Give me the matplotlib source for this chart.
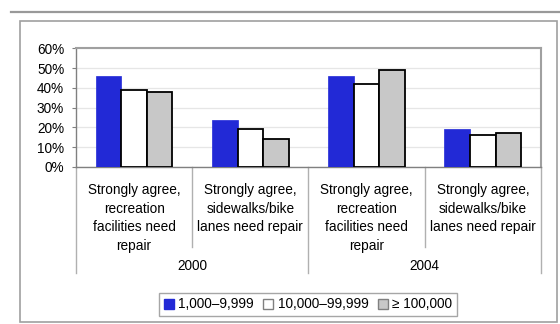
import numpy as np
import matplotlib
matplotlib.use("Agg")
import matplotlib.pyplot as plt
from matplotlib.patches import Rectangle
from matplotlib.lines import Line2D

plt.rcParams['font.family'] = ['Liberation Sans', 'DejaVu Sans']

# data (percent)
categories = ["Strongly agree,\nrecreation\nfacilities need\nrepair",
              "Strongly agree,\nsidewalks/bike\nlanes need repair",
              "Strongly agree,\nrecreation\nfacilities need\nrepair",
              "Strongly agree,\nsidewalks/bike\nlanes need repair"]
years = ["2000", "2004"]
small = [46, 24, 46, 19]      # 1,000-9,999
medium = [39, 19, 42, 16]     # 10,000-99,999
large = [38, 14, 49, 17]      # >= 100,000
series_names = ["1,000\u20139,999", "10,000\u201399,999", "\u2265 100,000"]
yticks = [0, 10, 20, 30, 40, 50, 60]

BLUE = "#2229D6"
GREY = "#C8C8C8"
FS = 9.8

fig = plt.figure(figsize=(5.6, 3.24), dpi=100)
ax = fig.add_axes([0.1357, 0.4846, 0.966 - 0.1357, 0.851 - 0.4846])

x = np.arange(len(categories))
w = 0.22
ax.bar(x - w, small, w, color=BLUE, edgecolor=BLUE, linewidth=0.5, zorder=3)
ax.bar(x, medium, w, color="white", edgecolor="black", linewidth=1.3, zorder=3)
ax.bar(x + w, large, w, color=GREY, edgecolor="black", linewidth=1.3, zorder=3)

ax.set_xlim(-0.5, 3.5)
ax.set_ylim(0, 60)
ax.set_yticks(yticks)
ax.set_yticklabels([f"{t}%" for t in yticks], fontsize=FS)
ax.tick_params(axis='y', length=3, width=0.8, color="#808080", pad=5.5)
ax.set_xticks([])
ax.yaxis.grid(True, color="#E6E6E6", linewidth=0.9, zorder=0)
ax.set_axisbelow(True)

for side in ['top', 'right']:
    ax.spines[side].set_color("#A0A0A0")
    ax.spines[side].set_linewidth(1.5)
for side in ['left', 'bottom']:
    ax.spines[side].set_color("#808080")
    ax.spines[side].set_linewidth(1.0)

# category separators below the axis
tr = ax.get_xaxis_transform()
for b in [0.5, 2.5]:
    ax.add_line(Line2D([b, b], [0, -0.674], transform=tr, color="#B0B0B0",
                       linewidth=1.0, clip_on=False))
for b in [-0.5, 1.5, 3.5]:
    ax.add_line(Line2D([b, b], [0, -0.893], transform=tr, color="#B0B0B0",
                       linewidth=1.0, clip_on=False))

for i, lab in enumerate(categories):
    ax.text(x[i], -0.135, lab, transform=tr, ha='center', va='top',
            fontsize=FS, linespacing=1.41)
for j, yr in enumerate(years):
    ax.text(2 * j + 0.5, -0.834, yr, transform=tr, ha='center', va='center',
            fontsize=FS)

# legend
handles = [Rectangle((0, 0), 1, 1, facecolor=BLUE, edgecolor=BLUE),
           Rectangle((0, 0), 1, 1, facecolor="white", edgecolor="#808080"),
           Rectangle((0, 0), 1, 1, facecolor=GREY, edgecolor="#808080")]
leg = fig.legend(handles, series_names, loc='center', bbox_to_anchor=(0.55, 0.0602),
                 ncol=3, fontsize=FS, frameon=True, fancybox=False,
                 handlelength=0.75, handleheight=0.75, handletextpad=0.3,
                 columnspacing=0.7, borderpad=0.35, borderaxespad=0)
leg.get_frame().set_edgecolor("#909090")
leg.get_frame().set_linewidth(1.0)

# outer frame and top rule
fig.add_artist(Rectangle((20 / 560, 1 - 321.5 / 324), 536.5 / 560, 300.5 / 324,
                         transform=fig.transFigure, fill=False,
                         edgecolor="#A0A0A0", linewidth=1.2))
fig.add_artist(Line2D([11 / 560, 1.0], [1 - 12 / 324, 1 - 12 / 324],
                      transform=fig.transFigure, color="#999999", linewidth=1.6))

fig.savefig("out.png", dpi=100)
